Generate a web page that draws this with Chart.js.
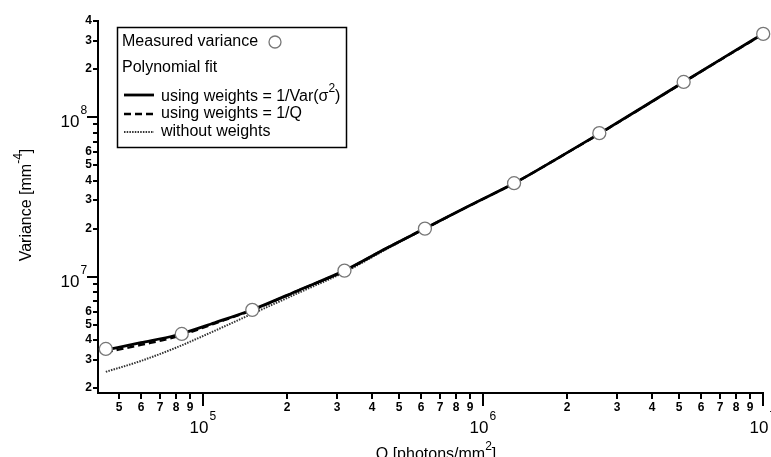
<!DOCTYPE html>
<html>
<head>
<meta charset="utf-8">
<title>Variance vs Q</title>
<script src="https://cdn.jsdelivr.net/npm/chart.js@4.4.1/dist/chart.umd.min.js"></script>
<style>
html,body{margin:0;padding:0;background:#fff;}
#wrap{width:771px;height:457px;}
</style>
</head>
<body>
<div id="wrap"><canvas id="varChart" width="771" height="457"></canvas></div>
<script>
// measured points
const measuredQ   = [4.5e4, 8.4e4, 1.5e5, 3.2e5, 6.2e5, 1.29e6, 2.6e6, 5.2e6, 1.0e7];
const measuredVar = [3.52e6, 4.37e6, 6.19e6, 1.09e7, 2.0e7, 3.85e7, 7.93e7, 1.66e8, 3.32e8];

// polynomial fits, sampled along Q
const fitQ = [4.5e4, 6e4, 8e4, 1.1e5, 1.5e5, 2.2e5, 3.2e5, 4.5e5, 6.2e5, 9e5,
              1.3e6, 1.8e6, 2.6e6, 3.7e6, 5.2e6, 7.2e6, 1.0e7];
const fitVarWeights = [3.47e6, 3.85e6, 4.29e6, 5.14e6, 6.20e6, 8.22e6, 1.09e7, 1.50e7, 2.00e7, 2.80e7,
                       3.87e7, 5.37e7, 7.87e7, 1.148e8, 1.66e8, 2.35e8, 3.33e8];
const fitInvQ       = [3.35e6, 3.73e6, 4.19e6, 5.08e6, 6.17e6, 8.20e6, 1.09e7, 1.50e7, 2.00e7, 2.80e7,
                       3.87e7, 5.37e7, 7.85e7, 1.145e8, 1.655e8, 2.34e8, 3.31e8];
const fitNoWeights  = [2.53e6, 2.96e6, 3.58e6, 4.57e6, 5.85e6, 7.93e6, 1.067e7, 1.48e7, 2.00e7, 2.80e7,
                       3.87e7, 5.37e7, 7.87e7, 1.148e8, 1.66e8, 2.35e8, 3.33e8];

// ticks
const xTickValues = [5e4, 6e4, 7e4, 8e4, 9e4, 1e5, 2e5, 3e5, 4e5, 5e5, 6e5, 7e5, 8e5, 9e5,
                     1e6, 2e6, 3e6, 4e6, 5e6, 6e6, 7e6, 8e6, 9e6, 1e7];
const yTickValues = [2e6, 3e6, 4e6, 5e6, 6e6, 7e6, 8e6, 9e6, 1e7, 2e7, 3e7, 4e7, 5e7, 6e7, 7e7, 8e7, 9e7,
                     1e8, 2e8, 3e8, 4e8];
const yLabelledDigits = [2, 3, 4, 5, 6];

const FONT = "Arial, 'Liberation Sans', sans-serif";

const toXY = (xs, ys) => xs.map((x, i) => ({x: x, y: ys[i]}));

function isDecade(v){
    const e = Math.log10(v);
    return Math.abs(e - Math.round(e)) < 1e-9;
}
function leadDigit(v){
    return Math.round(v / Math.pow(10, Math.floor(Math.log10(v) + 1e-9)));
}

// "10" with a raised exponent
function drawPower(ctx, exp, cx, baseY){
    ctx.font = "17px " + FONT;
    ctx.textAlign = "center";
    ctx.textBaseline = "middle";
    ctx.fillText("10", cx, baseY);
    const w = ctx.measureText("10").width;
    ctx.font = "12px " + FONT;
    ctx.textAlign = "left";
    ctx.fillText(String(exp), cx + w / 2 + 1, baseY - 11);
}

// text with one superscript piece in the middle
function drawSupText(ctx, before, sup, after, x, y, size, supSize){
    ctx.textAlign = "left";
    ctx.textBaseline = "alphabetic";
    ctx.font = size + "px " + FONT;
    const w1 = ctx.measureText(before).width;
    ctx.font = supSize + "px " + FONT;
    const w2 = ctx.measureText(sup).width;
    ctx.font = size + "px " + FONT;
    const w3 = ctx.measureText(after).width;
    return {w: w1 + w2 + w3, draw(startX){
        ctx.font = size + "px " + FONT;
        ctx.fillText(before, startX, y);
        ctx.font = supSize + "px " + FONT;
        ctx.fillText(sup, startX + w1, y - size * 0.55);
        ctx.font = size + "px " + FONT;
        ctx.fillText(after, startX + w1 + w2, y);
    }};
}

const axesPlugin = {
    id: "igorAxes",
    afterDraw(chart){
        const ctx = chart.ctx;
        const xs = chart.scales.x, ys = chart.scales.y;
        const area = chart.chartArea;
        ctx.save();
        ctx.fillStyle = "#000";
        ctx.strokeStyle = "#000";
        ctx.lineWidth = 2;

        // y ticks
        ys.ticks.forEach(t => {
            const py = Math.round(ys.getPixelForValue(t.value));
            const major = isDecade(t.value);
            ctx.beginPath();
            ctx.moveTo(area.left - (major ? 11 : 5), py);
            ctx.lineTo(area.left, py);
            ctx.stroke();
            if (major){
                drawPower(ctx, Math.round(Math.log10(t.value)), area.left - 28, py + 5);
            } else if (yLabelledDigits.includes(leadDigit(t.value))){
                ctx.font = "bold 12px " + FONT;
                ctx.textAlign = "right";
                ctx.textBaseline = "middle";
                ctx.fillText(String(leadDigit(t.value)), area.left - 6, py);
            }
        });

        // x ticks
        xs.ticks.forEach(t => {
            const px = Math.round(xs.getPixelForValue(t.value));
            const major = isDecade(t.value);
            ctx.beginPath();
            ctx.moveTo(px, area.bottom);
            ctx.lineTo(px, area.bottom + (major ? 13 : 6));
            ctx.stroke();
            if (major){
                drawPower(ctx, Math.round(Math.log10(t.value)), px - 4, area.bottom + 35);
            } else {
                ctx.font = "bold 12px " + FONT;
                ctx.textAlign = "center";
                ctx.textBaseline = "middle";
                ctx.fillText(String(leadDigit(t.value)), px, area.bottom + 15);
            }
        });

        // x title
        const xt = drawSupText(ctx, "Q [photons/mm", "2", "]", 0, 459, 16, 12);
        xt.draw(436 - xt.w / 2);

        // y title
        ctx.translate(25, 205);
        ctx.rotate(-Math.PI / 2);
        const yt = drawSupText(ctx, "Variance [mm", "-4", "]", 0, 6, 16, 12);
        yt.draw(-yt.w / 2);
        ctx.restore();

        // legend box
        const ds = chart.data.datasets;
        ctx.save();
        ctx.strokeStyle = "#000";
        ctx.lineWidth = 1.5;
        ctx.strokeRect(117.5, 27.5, 229, 120);
        ctx.fillStyle = "#000";
        ctx.font = "16px " + FONT;
        ctx.textAlign = "left";
        ctx.textBaseline = "middle";
        ctx.fillText(ds[0].label, 122, 42);
        ctx.beginPath();
        ctx.arc(275, 42, 6, 0, Math.PI * 2);
        ctx.fillStyle = ds[0].backgroundColor;
        ctx.fill();
        ctx.strokeStyle = ds[0].borderColor;
        ctx.lineWidth = 1.3;
        ctx.stroke();
        ctx.fillStyle = "#000";
        ctx.fillText("Polynomial fit", 122, 68);

        const rows = [95, 114, 132];
        [1, 2, 3].forEach((k, i) => {
            const d = ds[k];
            ctx.strokeStyle = d.borderColor;
            ctx.lineWidth = d.borderWidth;
            ctx.setLineDash(d.borderDash || []);
            ctx.beginPath();
            ctx.moveTo(124, rows[i]);
            ctx.lineTo(154, rows[i]);
            ctx.stroke();
        });
        ctx.setLineDash([]);
        ctx.fillStyle = "#000";
        const l1 = drawSupText(ctx, "using weights = 1/Var(σ", "2", ")", 0, rows[0] + 6, 16, 12);
        l1.draw(161);
        ctx.font = "16px " + FONT;
        ctx.textBaseline = "middle";
        ctx.fillText(ds[2].label, 161, rows[1]);
        ctx.fillText(ds[3].label, 161, rows[2]);
        ctx.restore();
    }
};

const chart = new Chart(document.getElementById("varChart"), {
    type: "line",
    data: {
        datasets: [
            {
                label: "Measured variance",
                data: toXY(measuredQ, measuredVar),
                showLine: false,
                pointRadius: 6.5,
                pointBackgroundColor: "#fff",
                pointBorderColor: "#777",
                pointBorderWidth: 1.3,
                backgroundColor: "#fff",
                borderColor: "#777",
                clip: 10,
                order: 0
            },
            {
                label: "using weights = 1/Var(σ²)",
                data: toXY(fitQ, fitVarWeights),
                borderColor: "#000",
                borderWidth: 2.8,
                pointRadius: 0,
                cubicInterpolationMode: "monotone",
                order: 1
            },
            {
                label: "using weights = 1/Q",
                data: toXY(fitQ, fitInvQ),
                borderColor: "#000",
                borderWidth: 2.4,
                borderDash: [7, 4],
                pointRadius: 0,
                cubicInterpolationMode: "monotone",
                order: 2
            },
            {
                label: "without weights",
                data: toXY(fitQ, fitNoWeights),
                borderColor: "#333",
                borderWidth: 2,
                borderDash: [1.5, 1.2],
                pointRadius: 0,
                cubicInterpolationMode: "monotone",
                order: 3
            }
        ]
    },
    options: {
        responsive: false,
        animation: false,
        layout: {padding: {top: 21, right: 7, bottom: 0, left: 0}},
        plugins: {
            legend: {display: false},
            tooltip: {enabled: false}
        },
        scales: {
            x: {
                type: "logarithmic",
                min: 4.22e4,
                max: 1e7,
                grid: {display: false},
                border: {display: true, color: "#000", width: 2},
                ticks: {display: false},
                afterBuildTicks: s => { s.ticks = xTickValues.map(v => ({value: v})); },
                afterFit: s => { s.height = 64; }
            },
            y: {
                type: "logarithmic",
                min: 1.864e6,
                max: 4e8,
                grid: {display: false},
                border: {display: true, color: "#000", width: 2},
                ticks: {display: false},
                afterBuildTicks: s => { s.ticks = yTickValues.map(v => ({value: v})); },
                afterFit: s => { s.width = 98; }
            }
        }
    },
    plugins: [axesPlugin]
});
</script>
</body>
</html>
